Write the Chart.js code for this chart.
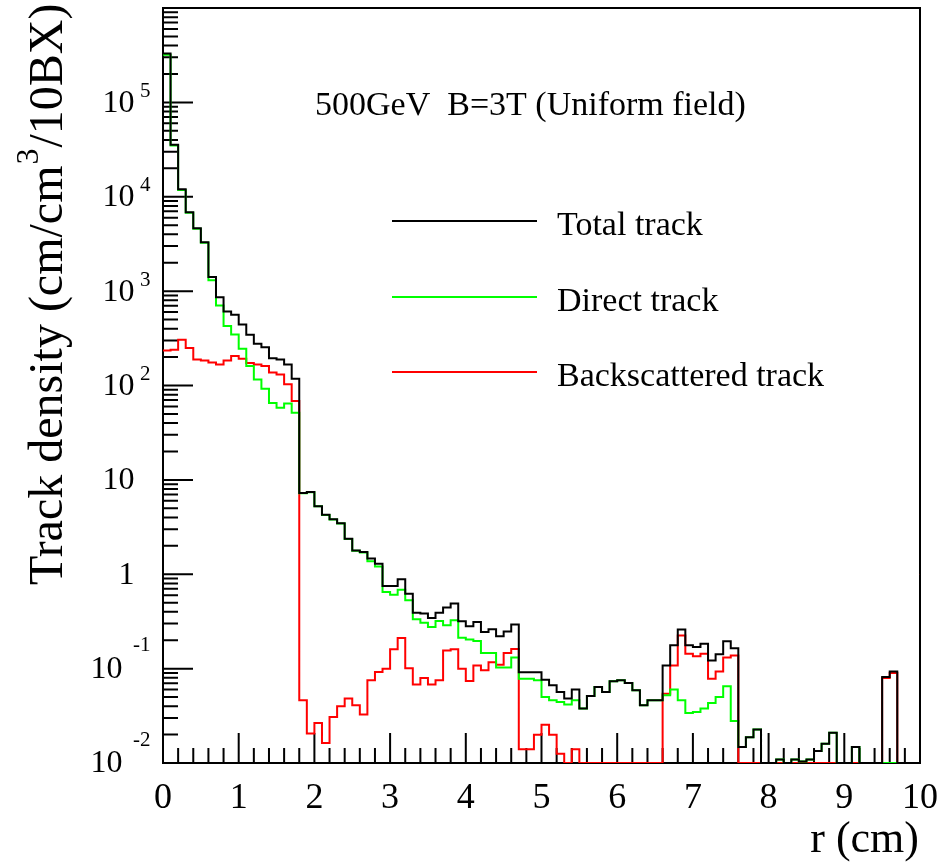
<!DOCTYPE html>
<html>
<head>
<meta charset="utf-8">
<title>Track density vs r</title>
<script src="https://cdn.jsdelivr.net/npm/chart.js@4.4.1/dist/chart.umd.min.js"></script>
<style>
  html, body { margin: 0; padding: 0; background: #fff; }
  #chart { display: block; }
</style>
</head>
<body>
<canvas id="chart" width="939" height="864"></canvas>
<script>
// ---- data: 100 bins of 0.1 cm over r = 0..10 cm ----
const R_MIN = 0, R_MAX = 10, N_BINS = 100;

const TOTAL = [
  330000, 35600, 12000, 6870, 4650, 3300, 1410, 863, 610, 562,
  444, 345, 277, 255, 195, 189, 167, 118, 7.24, 7.43,
  5.27, 4.27, 3.82, 3.48, 2.38, 1.79, 1.72, 1.47, 1.29, 0.75,
  0.75, 0.883, 0.622, 0.392, 0.383, 0.344, 0.392, 0.443, 0.489, 0.317,
  0.281, 0.312, 0.244, 0.261, 0.22, 0.248, 0.294, 0.0914, 0.0914, 0.0914,
  0.0764, 0.0665, 0.0565, 0.0481, 0.06, 0.0377, 0.0513, 0.0638, 0.0565, 0.0733,
  0.0752, 0.0703, 0.0589, 0.0408, 0.0461, 0.0461, 0.108, 0.177, 0.259, 0.177,
  0.169, 0.184, 0.122, 0.142, 0.195, 0.164, 0.0148, 0.0188, 0.0226, 0,
  0, 0.0109, 0, 0.0109, 0.0104, 0.0109, 0.0134, 0.016, 0.0209, 0,
  0, 0.0148, 0, 0, 0, 0.0815, 0.0935, 0, 0, 0,
];

const DIRECT = [
  320000, 35000, 11800, 6770, 4580, 3260, 1300, 706, 426, 348,
  245, 161, 116, 92.5, 65.2, 58.2, 64.6, 51.3, 7.2, 7.4,
  5.25, 4.25, 3.8, 3.45, 2.36, 1.77, 1.7, 1.37, 1.21, 0.647,
  0.608, 0.687, 0.53, 0.333, 0.307, 0.276, 0.319, 0.288, 0.325, 0.213,
  0.204, 0.196, 0.146, 0.146, 0.103, 0.103, 0.131, 0.0783, 0.0783, 0.0752,
  0.05, 0.0461, 0.0443, 0.0416, 0.0461, 0.0377, 0.0513, 0.0638, 0.0565, 0.0733,
  0.0752, 0.0703, 0.0589, 0.0408, 0.0461, 0.0461, 0.0521, 0.06, 0.0461, 0.0339,
  0.0347, 0.0377, 0.0432, 0.05, 0.0649, 0.0279, 0.0148, 0.0188, 0.0226, 0,
  0, 0.0109, 0, 0.0109, 0.0104, 0.0109, 0.0134, 0.016, 0.0209, 0,
  0, 0.0148, 0, 0, 0, 0, 0, 0, 0, 0,
];

const BACKSCATTERED = [
  235, 239, 305, 249, 189, 184, 175, 167, 184, 205,
  192, 173, 167, 161, 137, 131, 103, 68.7, 0.0461, 0.0205,
  0.0265, 0.0163, 0.0307, 0.0399, 0.0481, 0.0408, 0.0326, 0.0752, 0.092, 0.1,
  0.16, 0.211, 0.101, 0.0678, 0.0794, 0.0678, 0.0752, 0.156, 0.16, 0.1,
  0.074, 0.108, 0.0959, 0.117, 0.11, 0.146, 0.161, 0.014, 0.014, 0.0199,
  0.0254, 0.0199, 0.0125, 0, 0.014, 0, 0, 0, 0, 0,
  0, 0, 0, 0, 0, 0, 0.0543, 0.108, 0.225, 0.144,
  0.135, 0.144, 0.0783, 0.0935, 0.131, 0.138, 0, 0, 0, 0,
  0, 0, 0, 0, 0, 0, 0, 0, 0, 0,
  0, 0, 0, 0, 0, 0.0794, 0.0897, 0, 0, 0,
];

// closing edge drawn at r = 10 cm
const TOTAL_END = 1.0;
const DIRECT_END = 0;
const BACKSCATTERED_END = 1.0;

const SERIES_LABELS = ["Total track", "Direct track", "Backscattered track"];
const SERIES_COLORS = ["#000000", "#00ff00", "#ff0000"];

const Y_TICKS = [1e-2, 1e-1, 1, 10, 1e2, 1e3, 1e4, 1e5];
const Y_TICK_BASE = ["10", "10", "1", "10", "10", "10", "10", "10"];
const Y_TICK_EXP = ["-2", "-1", "", "", "2", "3", "4", "5"];
const X_TICKS = [0, 1, 2, 3, 4, 5, 6, 7, 8, 9, 10];
const X_TICK_LABELS = ["0", "1", "2", "3", "4", "5", "6", "7", "8", "9", "10"];

const TITLE_TEXT = "500GeV  B=3T (Uniform field)";
const Y_TITLE = ["Track density (cm/cm", "3", "/10BX)"];
const X_TITLE = "r (cm)";

const Y_MIN = 1e-2, Y_MAX = 1e6;
const SERIF = "'Liberation Serif', 'Times New Roman', serif";

// empty bins sit on the lower frame edge, as in the log plot
function histPoints(values, endValue) {
  const w = (R_MAX - R_MIN) / N_BINS;
  const pts = values.map((v, i) => ({ x: R_MIN + i * w, y: v > 0 ? v : Y_MIN }));
  pts.push({ x: R_MAX, y: endValue > 0 ? endValue : Y_MIN });
  return pts;
}

const rootStyle = {
  id: "rootStyle",
  beforeDatasetsDraw(chart) {
    const { ctx, chartArea: a, scales: { x, y } } = chart;
    ctx.save();
    ctx.strokeStyle = "#000";
    ctx.lineWidth = 2;
    ctx.strokeRect(a.left, a.top, a.right - a.left, a.bottom - a.top);
    ctx.beginPath();
    // log ticks on the left side, pointing inward
    for (let d = -2; d <= 5; d++) {
      for (let m = 1; m <= 9; m++) {
        const py = y.getPixelForValue(m * Math.pow(10, d));
        const len = m === 1 ? 30 : 15;
        ctx.moveTo(a.left, py); ctx.lineTo(a.left + len, py);
      }
    }
    // x ticks every 0.2 cm, long at whole cm
    for (let i = 0; i <= 50; i++) {
      const px = x.getPixelForValue(i * 0.2);
      const len = i % 5 === 0 ? 30 : 15;
      ctx.moveTo(px, a.bottom); ctx.lineTo(px, a.bottom - len);
    }
    ctx.stroke();
    ctx.restore();
  },
  afterDatasetsDraw(chart) {
    const { ctx, chartArea: a, scales: { x, y } } = chart;
    ctx.save();
    ctx.fillStyle = "#000";

    // y labels: 10 with raised exponent
    Y_TICKS.forEach((v, i) => {
      const py = y.getPixelForValue(v);
      const exp = Y_TICK_EXP[i];
      ctx.textBaseline = "middle";
      if (!exp) {
        ctx.font = "32px " + SERIF;
        ctx.textAlign = "right";
        ctx.fillText(Y_TICK_BASE[i], 134.5, py + 1);
        return;
      }
      const neg = exp.startsWith("-");
      ctx.font = "21px " + SERIF;
      ctx.textAlign = "left";
      ctx.fillText(exp, neg ? 133 : 140, py + (neg ? -23 : -11));
      ctx.font = "32px " + SERIF;
      ctx.textAlign = "right";
      ctx.fillText(Y_TICK_BASE[i], neg ? 122.5 : 134.5, py + 1);
    });

    // x labels
    ctx.font = "36px " + SERIF;
    ctx.textAlign = "center";
    ctx.textBaseline = "middle";
    X_TICKS.forEach((v, i) => ctx.fillText(X_TICK_LABELS[i], x.getPixelForValue(v), 799));

    // axis titles
    ctx.font = "44px " + SERIF;
    ctx.textAlign = "right";
    ctx.textBaseline = "alphabetic";
    ctx.fillText(X_TITLE, a.right - 1, 852);

    ctx.save();
    ctx.translate(62, 585);
    ctx.rotate(-Math.PI / 2);
    ctx.textAlign = "left";
    ctx.font = "48px " + SERIF;
    ctx.fillText(Y_TITLE[0], 0, 0);
    let w = ctx.measureText(Y_TITLE[0]).width;
    ctx.font = "32px " + SERIF;
    ctx.fillText(Y_TITLE[1], w + 1, -24);
    w += ctx.measureText(Y_TITLE[1]).width + 2;
    ctx.font = "48px " + SERIF;
    ctx.fillText(Y_TITLE[2], w, 0);
    ctx.restore();

    // annotation and legend
    ctx.font = "34px " + SERIF;
    ctx.textAlign = "left";
    ctx.fillText(TITLE_TEXT, 315, 115);
    const legendY = [221, 297, 372];
    chart.data.datasets.forEach((ds, i) => {
      ctx.strokeStyle = ds.borderColor;
      ctx.lineWidth = 2;
      ctx.beginPath();
      ctx.moveTo(392, legendY[i]); ctx.lineTo(537, legendY[i]);
      ctx.stroke();
      ctx.fillText(ds.label, 557, legendY[i] + 14);
    });
    ctx.restore();
  },
};

new Chart(document.getElementById("chart"), {
  type: "line",
  data: {
    datasets: [
      { label: SERIES_LABELS[0], data: histPoints(TOTAL, TOTAL_END), borderColor: SERIES_COLORS[0] },
      { label: SERIES_LABELS[1], data: histPoints(DIRECT, DIRECT_END), borderColor: SERIES_COLORS[1] },
      { label: SERIES_LABELS[2], data: histPoints(BACKSCATTERED, BACKSCATTERED_END), borderColor: SERIES_COLORS[2] },
    ],
  },
  options: {
    responsive: false,
    animation: false,
    layout: { padding: { left: 163, top: 8, right: 19, bottom: 101 } },
    elements: {
      // Chart.js "before": horizontal at the previous bin's height, then the vertical edge
      line: { borderWidth: 2, stepped: "before", fill: false, tension: 0 },
      point: { radius: 0, hoverRadius: 0 },
    },
    scales: {
      x: { type: "linear", min: R_MIN, max: R_MAX, display: false },
      y: { type: "logarithmic", min: Y_MIN, max: Y_MAX, display: false },
    },
    plugins: { legend: { display: false }, tooltip: { enabled: false } },
  },
  plugins: [rootStyle],
});
</script>
</body>
</html>
